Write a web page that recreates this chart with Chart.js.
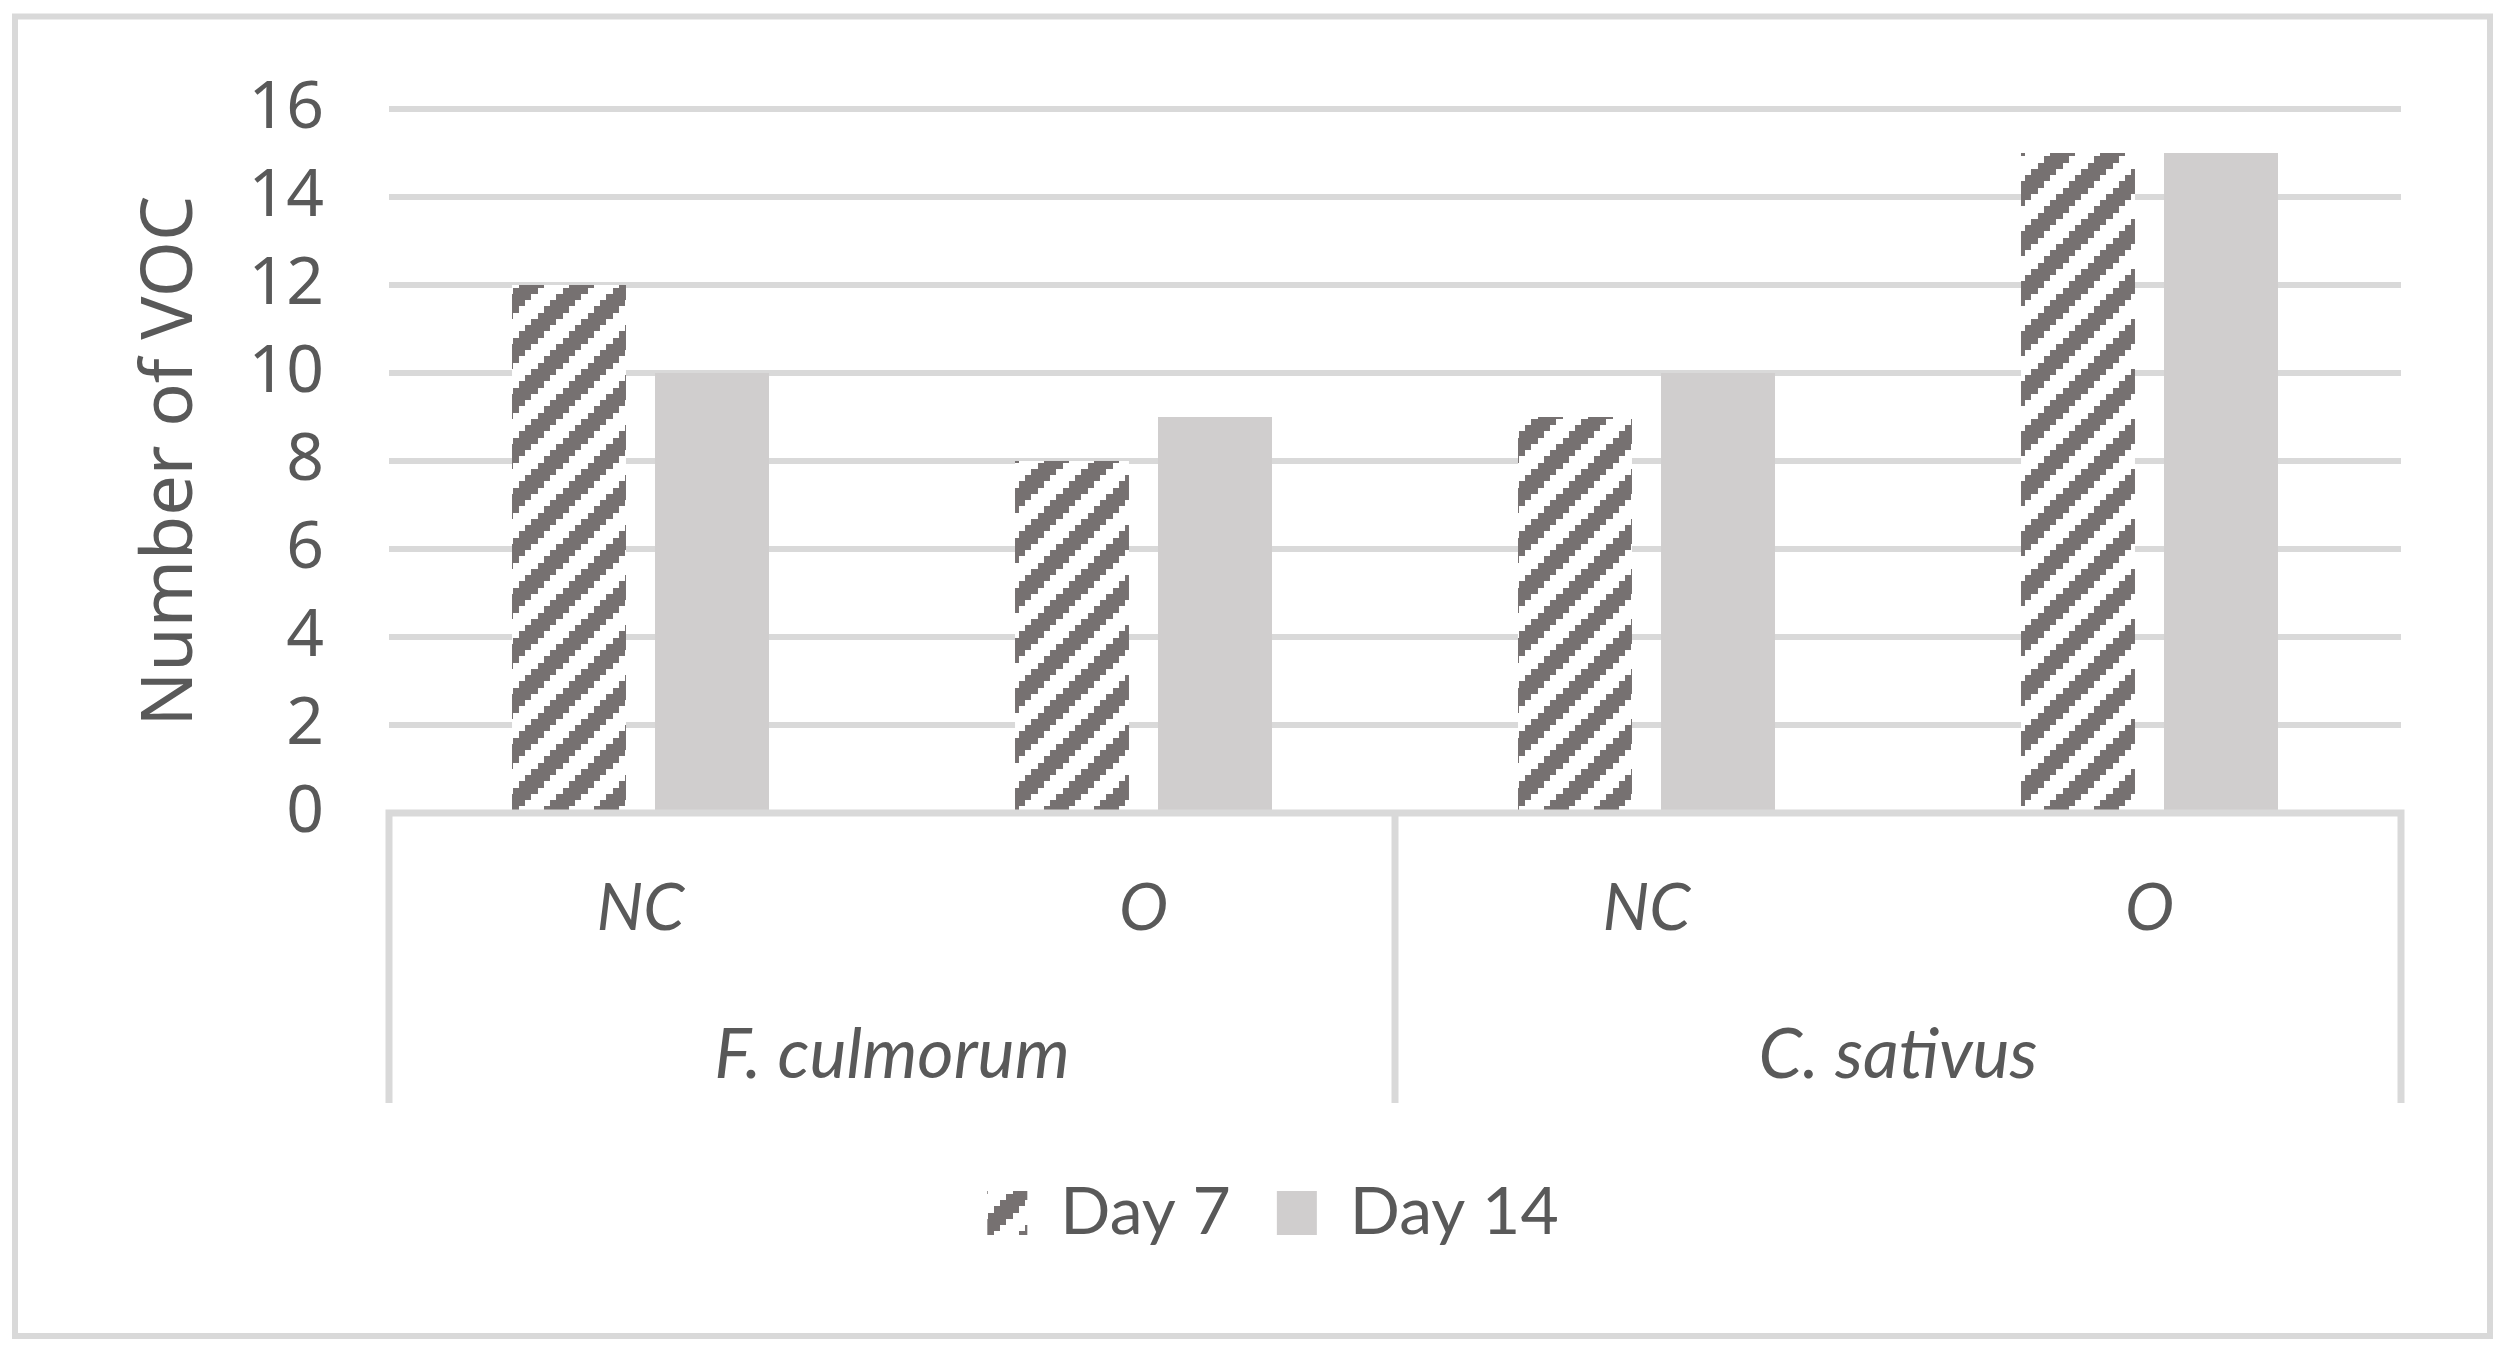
<!DOCTYPE html>
<html>
<head>
<meta charset="utf-8">
<script src="https://cdn.jsdelivr.net/npm/chart.js@4.4.1/dist/chart.umd.min.js"></script>
<style>
html,body{margin:0;padding:0;background:#fff;overflow:hidden}
canvas{display:block}
</style>
</head>
<body>
<canvas id="c" width="2514" height="1357"></canvas>
<script>
// ---- data ----
const categories = ['NC', 'O', 'NC', 'O'];
const groups = ['F. culmorum', 'C. sativus'];
const seriesNames = ['Day 7', 'Day 14'];
const day7 = [12, 8, 9, 15];
const day14 = [10, 9, 10, 15];
const yTicks = [0, 2, 4, 6, 8, 10, 12, 14, 16];
const yTitle = 'Number of VOC';

// ---- styles ----
const TEXT = '#595959';
const GRID = '#d9d9d9';
const HATCH = '#767171';
const LIGHT = '#d0cece';

function makeHatch() {
  const small = document.createElement('canvas');
  small.width = 8; small.height = 8;
  const s = small.getContext('2d');
  s.fillStyle = '#ffffff'; s.fillRect(0, 0, 8, 8);
  s.fillStyle = HATCH;
  for (let y = 0; y < 8; y++) for (let x = 0; x < 8; x++) if (((x + y) % 8) < 4) s.fillRect(x, y, 1, 1);
  const big = document.createElement('canvas');
  big.width = 50; big.height = 50;
  const b = big.getContext('2d');
  b.imageSmoothingEnabled = false;
  b.drawImage(small, 0, 0, 50, 50);
  return b.createPattern(big, 'repeat');
}
const hatch = makeHatch();

const frameAndGroups = {
  id: 'frameAndGroups',
  beforeDraw(chart) {
    const ctx = chart.ctx;
    ctx.save();
    ctx.fillStyle = '#fff';
    ctx.fillRect(0, 0, chart.width, chart.height);
    ctx.strokeStyle = GRID;
    ctx.lineWidth = 6;
    ctx.strokeRect(15, 16.5, chart.width - 39, chart.height - 37.5);
    ctx.restore();
  },
  afterDraw(chart) {
    const ctx = chart.ctx;
    const x = chart.scales.x, x2 = chart.scales.x2;
    const top = chart.chartArea.bottom;
    const bottom = x2.bottom;
    const mid = (x.getPixelForValue(1) + x.getPixelForValue(2)) / 2;
    ctx.save();
    ctx.strokeStyle = GRID;
    ctx.lineWidth = 7;
    ctx.beginPath();
    ctx.moveTo(x.left - 3.5, top); ctx.lineTo(x.right + 3.5, top);
    [x.left, mid, x.right].forEach(px => { ctx.moveTo(px, top); ctx.lineTo(px, bottom); });
    ctx.stroke();
    ctx.restore();
  }
};

new Chart(document.getElementById('c'), {
  type: 'bar',
  data: {
    labels: categories,
    datasets: [
      { label: seriesNames[0], data: day7, backgroundColor: hatch, borderWidth: 0 },
      { label: seriesNames[1], data: day14, backgroundColor: LIGHT, borderWidth: 0 }
    ]
  },
  options: {
    responsive: false,
    devicePixelRatio: 1,
    animation: false,
    categoryPercentage: 0.5686,
    barPercentage: 0.797,
    layout: { padding: { top: 109, bottom: 101, left: 32, right: 0 } },
    plugins: {
      tooltip: { enabled: false },
      legend: {
        position: 'bottom',
        title: { display: true, text: '', font: { size: 1, lineHeight: 1 }, padding: { top: 30, bottom: 0 } },
        labels: {
          color: TEXT,
          font: { family: 'Lato', size: 66 },
          boxWidth: 40,
          boxHeight: 44,
          padding: 46
        }
      }
    },
    scales: {
      y: {
        min: 0, max: 16,
        afterBuildTicks: s => { s.ticks = yTicks.map(v => ({ value: v })); },
        grid: { color: GRID, lineWidth: 6, drawTicks: false },
        border: { display: false },
        ticks: { color: TEXT, font: { family: 'Noto Sans', size: 66 }, padding: 65 },
        title: {
          display: true, text: yTitle, color: TEXT,
          font: { family: 'Noto Sans', size: 72 },
          padding: { top: 96, bottom: 0 }
        },
        afterFit: s => { s.width = 357; }
      },
      yR: {
        type: 'linear', position: 'right', display: true,
        grid: { display: false, drawTicks: false },
        border: { display: false },
        ticks: { display: false },
        afterFit: s => { s.width = 113; }
      },
      x: {
        position: 'bottom', weight: 0,
        grid: { display: false, drawTicks: false },
        border: { display: false },
        ticks: { color: TEXT, font: { family: 'Lato', size: 66, style: 'italic' }, padding: 56, maxRotation: 0, autoSkip: false },
        afterFit: s => { s.height = 165; }
      },
      x2: {
        type: 'category', labels: groups, position: 'bottom', weight: 1, offset: true,
        grid: { display: false, drawTicks: false },
        border: { display: false },
        ticks: { color: TEXT, font: { family: 'Lato', size: 70, style: 'italic' }, padding: 35, maxRotation: 0, autoSkip: false },
        afterFit: s => { s.height = 125; }
      }
    }
  },
  plugins: [frameAndGroups]
});
</script>
</body>
</html>
